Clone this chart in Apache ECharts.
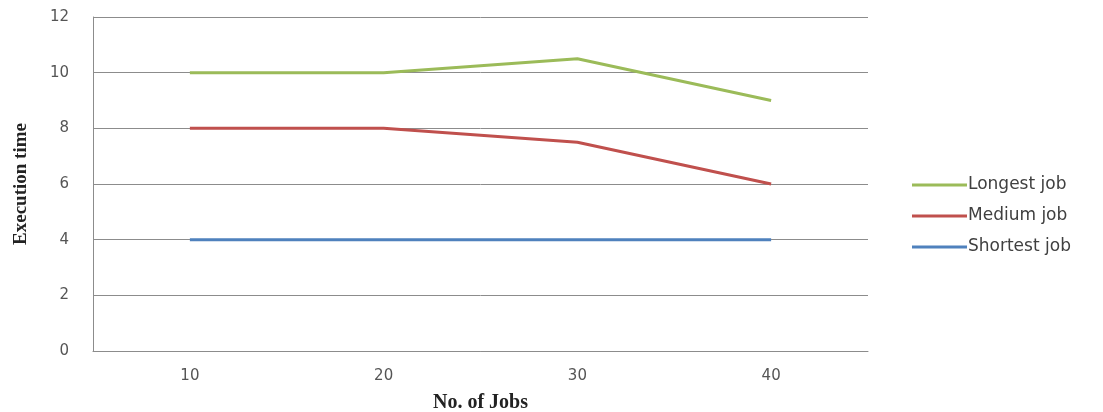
<!DOCTYPE html>
<html>
<head>
    <meta charset="utf-8" />
    <title>Execution time</title>
    <script src="https://cdn.jsdelivr.net/npm/echarts@6/dist/echarts.min.js"></script>
    <style>
        html, body { margin: 0; padding: 0; background: #fff; }
        #chart { width: 1103px; height: 412px; }
    </style>
</head>
<body>
    <div id="chart"></div>
    <script>
        // data
        var jobCounts = ['10', '20', '30', '40'];
        var longestJob = [10, 10, 10.5, 9];
        var mediumJob = [8, 8, 7.5, 6];
        var shortestJob = [4, 4, 4, 4];

        var myChart = echarts.init(document.getElementById('chart'));

        function lineSeries(name, data, color) {
            return {
                name: name,
                type: 'line',
                data: data,
                symbol: 'none',
                lineStyle: { width: 3, color: color },
                itemStyle: { color: color }
            };
        }

        var option = {
            animation: false,
            grid: { left: 93, right: 235, top: 17, bottom: 61, outerBoundsMode: 'none', containLabel: false },
            legend: {
                orient: 'vertical',
                left: 907,
                top: 171,
                itemGap: 13,
                itemWidth: 55,
                itemHeight: 3,
                icon: 'rect',
                textStyle: { fontFamily: 'DejaVu Sans', fontSize: 17, lineHeight: 18, color: '#404040', padding: [0, 0, 0, -4] },
                data: ['Longest job', 'Medium job', 'Shortest job']
            },
            xAxis: {
                type: 'category',
                data: jobCounts,
                boundaryGap: true,
                name: 'No. of Jobs',
                nameLocation: 'middle',
                nameGap: 42,
                nameTextStyle: { fontFamily: 'Liberation Serif', fontWeight: 'bold', fontSize: 20, color: '#222' },
                axisLine: { lineStyle: { color: '#8c8c8c', width: 1 } },
                axisTick: { show: false },
                axisLabel: { fontFamily: 'DejaVu Sans', fontSize: 15, color: '#555', margin: 18 }
            },
            yAxis: {
                type: 'value',
                min: 0,
                max: 12,
                interval: 2,
                name: 'Execution time',
                nameLocation: 'middle',
                nameGap: 62,
                nameTextStyle: { fontFamily: 'Liberation Serif', fontWeight: 'bold', fontSize: 19, color: '#222' },
                axisLine: { show: true, lineStyle: { color: '#8c8c8c', width: 1 } },
                axisTick: { show: false },
                axisLabel: { fontFamily: 'DejaVu Sans', fontSize: 15, color: '#555', margin: 24 },
                splitLine: { lineStyle: { color: '#8c8c8c', width: 1 } }
            },
            series: [
                lineSeries('Longest job', longestJob, '#9bbb59'),
                lineSeries('Medium job', mediumJob, '#c0504d'),
                lineSeries('Shortest job', shortestJob, '#4f81bd')
            ]
        };

        myChart.setOption(option);
    </script>
</body>
</html>
